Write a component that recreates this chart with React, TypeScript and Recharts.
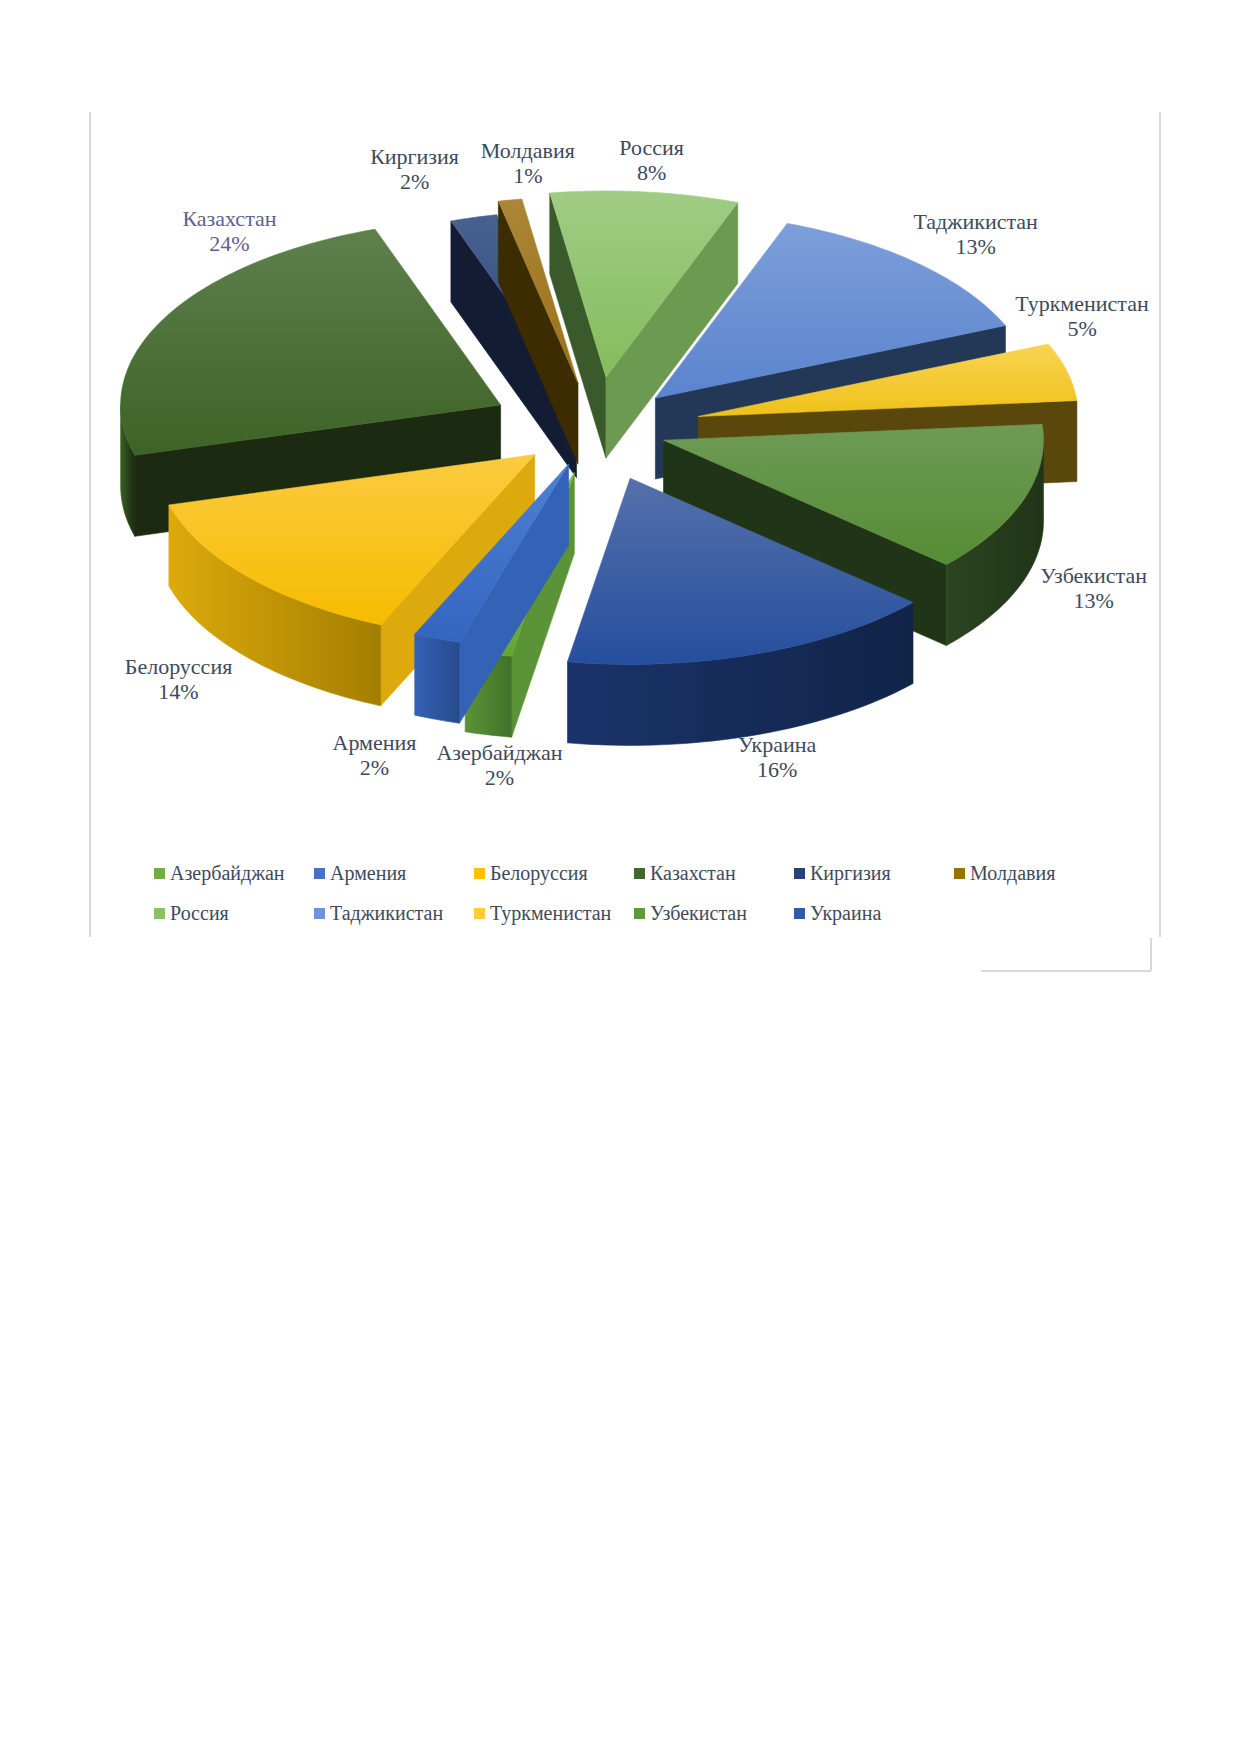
import React from "react";
import { PieChart, Pie, Cell, Legend } from "recharts";

// shares of the CIS countries, % (as printed on the chart)
const COUNTRIES = [
  "Азербайджан", "Армения", "Белоруссия", "Казахстан", "Киргизия", "Молдавия",
  "Россия", "Таджикистан", "Туркменистан", "Узбекистан", "Украина",
];
const SHARES = [2, 2, 14, 24, 2, 1, 8, 13, 5, 13, 16];

const DATA = COUNTRIES.map((name, i) => ({ name, value: SHARES[i] }));
const TOTAL = SHARES.reduce((a, b) => a + b, 0);

// colours: legend swatch, top face (back -> front), walls (light / dark)
const LEGEND_COLORS = ["#70ad47", "#4472c4", "#ffc000", "#43682b", "#264478", "#997300", "#8cc168", "#6f93d6", "#ffcd33", "#5d9a3c", "#2e5aa6"];
const TOP_BACK = ["#7cba52", "#4d7fd2", "#fbcb40", "#5e804d", "#48618f", "#ab8636", "#a0cc84", "#7d9ed9", "#f9d452", "#6e9b55", "#5570ab"];
const TOP_FRONT = ["#64a638", "#3466c1", "#f6bc00", "#3d6326", "#2f487c", "#987216", "#85bc5d", "#5a84ce", "#eec118", "#568c35", "#254f9e"];
const SIDE_LIGHT = ["#5a9436", "#3362b6", "#dcaa0c", "#3a5f24", "#1f2b49", "#6a4e08", "#6c9a50", "#2c4470", "#6b5510", "#2a4520", "#1a336a"];
const SIDE_DARK = ["#42702a", "#264a8c", "#a47e00", "#1b2a10", "#131c33", "#3d2c00", "#3b5a2b", "#233757", "#5a470b", "#203517", "#112448"];
// how far each slice is pulled out, as a share of the radius
const EXPLODE = [0.24, 0.2, 0.21, 0.28, 0.18, 0.25, 0.28, 0.23, 0.28, 0.19, 0.28];

const FONT = "'Liberation Serif', 'Times New Roman', serif";
const TEXT = "#404a5c";
const LABEL_COLOR_OVERRIDE: Record<string, string> = { "Казахстан": "#5f5f92" };

const CX = 595;
const CY = 429;
const R = 380;
const TILT = 0.49;
const DEPTH = 81;
const START = 260.5; // first slice starts just right of 6 o'clock, goes clockwise
const RAD = Math.PI / 180;

const LABEL_K = 1.45;
const LABEL_FS = 22;
const LINE_H = 25;
const PLOT_L_TOP = 177; // upper labels keep clear of the rounded back edge
const PLOT_L = 120;
const PLOT_R = 1152;

function layerOf(mid: number) {
  const front = -Math.sin(mid * RAD);
  if (front < 0) return 0;
  return front < 0.8 ? 1 : 2;
}

function slice3d(layer: number) {
  return (p: any) => {
    const { cx, cy, outerRadius, startAngle, endAngle, midAngle } = p;
    const name = p.name ?? p.payload?.name;
    if (layerOf(midAngle) !== layer) return <g />;
    const i = COUNTRIES.indexOf(name);
    const ry = outerRadius * TILT;
    const ox = cx + EXPLODE[i] * outerRadius * Math.cos(midAngle * RAD);
    const oy = cy - EXPLODE[i] * ry * Math.sin(midAngle * RAD);
    const pt = (a: number, dz = 0) =>
      `${(ox + outerRadius * Math.cos(a * RAD)).toFixed(2)},${(oy - ry * Math.sin(a * RAD) + dz).toFixed(2)}`;
    const arc = (a0: number, a1: number, dz: number) => {
      const n = Math.max(2, Math.ceil(Math.abs(a1 - a0) / 1.5));
      const out: string[] = [];
      for (let k = 0; k <= n; k++) out.push(pt(a0 + ((a1 - a0) * k) / n, dz));
      return out;
    };
    const lo = Math.min(startAngle, endAngle);
    const hi = Math.max(startAngle, endAngle);
    const c0 = `${ox.toFixed(2)},${oy.toFixed(2)}`;
    const c1 = `${ox.toFixed(2)},${(oy + DEPTH).toFixed(2)}`;

    const walls: React.ReactNode[] = [];
    // radial walls
    if (Math.cos(hi * RAD) < 0) {
      const col = -Math.sin(hi * RAD) > 0.5 ? SIDE_LIGHT[i] : SIDE_DARK[i];
      walls.push(<path key="rh" d={`M${c0}L${pt(hi)}L${pt(hi, DEPTH)}L${c1}Z`} fill={col} stroke={col} strokeWidth={0.6} />);
    }
    if (Math.cos(lo * RAD) > 0) {
      const col = Math.sin(lo * RAD) > 0.5 ? SIDE_LIGHT[i] : SIDE_DARK[i];
      walls.push(<path key="rl" d={`M${c0}L${pt(lo)}L${pt(lo, DEPTH)}L${c1}Z`} fill={col} stroke={col} strokeWidth={0.6} />);
    }
    // outer (curved) wall, front half only
    for (let k = -2; k <= 2; k++) {
      const a0 = Math.max(lo, 180 + 360 * k);
      const a1 = Math.min(hi, 360 + 360 * k);
      if (a1 - a0 > 0.01) {
        const top = arc(a0, a1, 0);
        const bot = arc(a1, a0, DEPTH);
        walls.push(
          <path key={`o${k}`} d={`M${top.join("L")}L${bot.join("L")}Z`} fill={`url(#wall-${i})`} stroke={`url(#wall-${i})`} strokeWidth={0.6} />
        );
      }
    }
    const topFace = `M${c0}L${arc(startAngle, endAngle, 0).join("L")}Z`;
    return (
      <g>
        {walls}
        <path d={topFace} fill={`url(#top-${i})`} stroke={`url(#top-${i})`} strokeWidth={0.6} />
      </g>
    );
  };
}

function labelWidth(name: string) {
  return name.length * 0.53 * LABEL_FS;
}

function basePos(cx: number, cy: number, r: number, mid: number, idx: number) {
  const s = Math.sin(mid * RAD);
  const c = Math.cos(mid * RAD);
  const x = cx + LABEL_K * r * c;
  let y = cy - LABEL_K * r * TILT * s + (s < 0 ? 0.9 * DEPTH : 0);
  const w = labelWidth(COUNTRIES[idx]);
  const left = s > 0 ? PLOT_L_TOP : PLOT_L;
  const cl = Math.min(PLOT_R - w / 2, Math.max(left + w / 2, x));
  if (cl !== x && s > 0) y -= Math.min(Math.abs(cl - x), 0.9 * DEPTH);
  return { x: cl, y, w };
}

function renderLabel(p: any) {
  const { cx, cy, midAngle, outerRadius, index } = p;
  const n = COUNTRIES.length;
  const me = basePos(cx, cy, outerRadius, midAngle, index);
  const nx = (index + 1) % n;
  const pv = (index - 1 + n) % n;
  const midNext = midAngle - (360 * (SHARES[index] + SHARES[nx])) / (2 * TOTAL);
  const midPrev = midAngle + (360 * (SHARES[index] + SHARES[pv])) / (2 * TOTAL);
  let x = me.x;
  for (const [m, j] of [[midNext, nx], [midPrev, pv]] as [number, number][]) {
    const o = basePos(cx, cy, outerRadius, m, j);
    const dx = Math.abs(me.x - o.x);
    const needX = (me.w + o.w) / 2 + 20;
    if (dx < needX && Math.abs(me.y - o.y) < 2 * LINE_H) {
      x += ((needX - dx) / 2) * (me.x >= o.x ? 1 : -1);
    }
  }
  const name = COUNTRIES[index];
  return (
    <text x={x} y={me.y} textAnchor="middle" fontFamily={FONT} fontSize={LABEL_FS} fill={LABEL_COLOR_OVERRIDE[name] ?? TEXT}>
      <tspan x={x} y={me.y - 5}>{name}</tspan>
      <tspan x={x} y={me.y - 5 + LINE_H}>{`${Math.round((SHARES[index] / TOTAL) * 100)}%`}</tspan>
    </text>
  );
}

function LegendBlock(props: any) {
  const seen = new Set<string>();
  const items = (props.payload || []).filter((e: any) => {
    if (e.type === "none" || seen.has(e.value)) return false;
    seen.add(e.value);
    return true;
  });
  return (
    <div style={{ display: "flex", flexWrap: "wrap", width: 980 }}>
      {items.map((e: any) => (
        <div key={e.value} style={{ width: 160, height: 40, display: "flex", alignItems: "center", fontFamily: FONT, fontSize: 20, color: TEXT }}>
          <span style={{ width: 11, height: 11, background: e.color, marginRight: 5, display: "inline-block" }} />
          {e.value}
        </div>
      ))}
    </div>
  );
}

const line = (left: number, top: number, width: number, height: number) => (
  <div style={{ position: "absolute", left, top, width, height, background: "#d9d9d9" }} />
);

export default function App() {
  return (
    <div style={{ position: "absolute", left: 0, top: 0, width: 1239, height: 1752, background: "#fff" }}>
      {line(89, 112, 1.5, 825)}
      {line(1159, 112, 1.5, 825)}
      {line(1150, 938, 1.5, 33)}
      {line(981, 970, 170, 1.5)}
      <div style={{ position: "absolute", left: 0, top: 0 }}>
        <PieChart width={1239} height={1000} margin={{ top: 0, right: 0, bottom: 0, left: 0 }}>
          <defs>
            {COUNTRIES.map((_, i) => (
              <linearGradient key={`t${i}`} id={`top-${i}`} x1="0" y1="0" x2="0" y2="1">
                <stop offset="0%" stopColor={TOP_BACK[i]} />
                <stop offset="100%" stopColor={TOP_FRONT[i]} />
              </linearGradient>
            ))}
            {COUNTRIES.map((_, i) => (
              <linearGradient key={`w${i}`} id={`wall-${i}`} x1="0" y1="0" x2="1" y2="0">
                <stop offset="0%" stopColor={SIDE_LIGHT[i]} />
                <stop offset="100%" stopColor={SIDE_DARK[i]} />
              </linearGradient>
            ))}
          </defs>
          {[0, 1, 2].map((layer) => (
            <Pie
              key={layer}
              data={DATA}
              dataKey="value"
              nameKey="name"
              cx={CX}
              cy={CY}
              outerRadius={R}
              startAngle={START}
              endAngle={START - 360}
              isAnimationActive={false}
              legendType={layer === 0 ? "square" : "none"}
              shape={slice3d(layer)}
              activeShape={slice3d(layer)}
              inactiveShape={slice3d(layer)}
              label={layer === 2 ? renderLabel : false}
              labelLine={false}
              stroke="none"
            >
              {DATA.map((d, i) => (
                <Cell key={d.name} fill={LEGEND_COLORS[i]} />
              ))}
            </Pie>
          ))}
          <Legend
            layout="horizontal"
            verticalAlign="middle"
            align="center"
            content={<LegendBlock />}
            wrapperStyle={{ left: 154, top: 853, width: 980 }}
          />
        </PieChart>
      </div>
    </div>
  );
}
